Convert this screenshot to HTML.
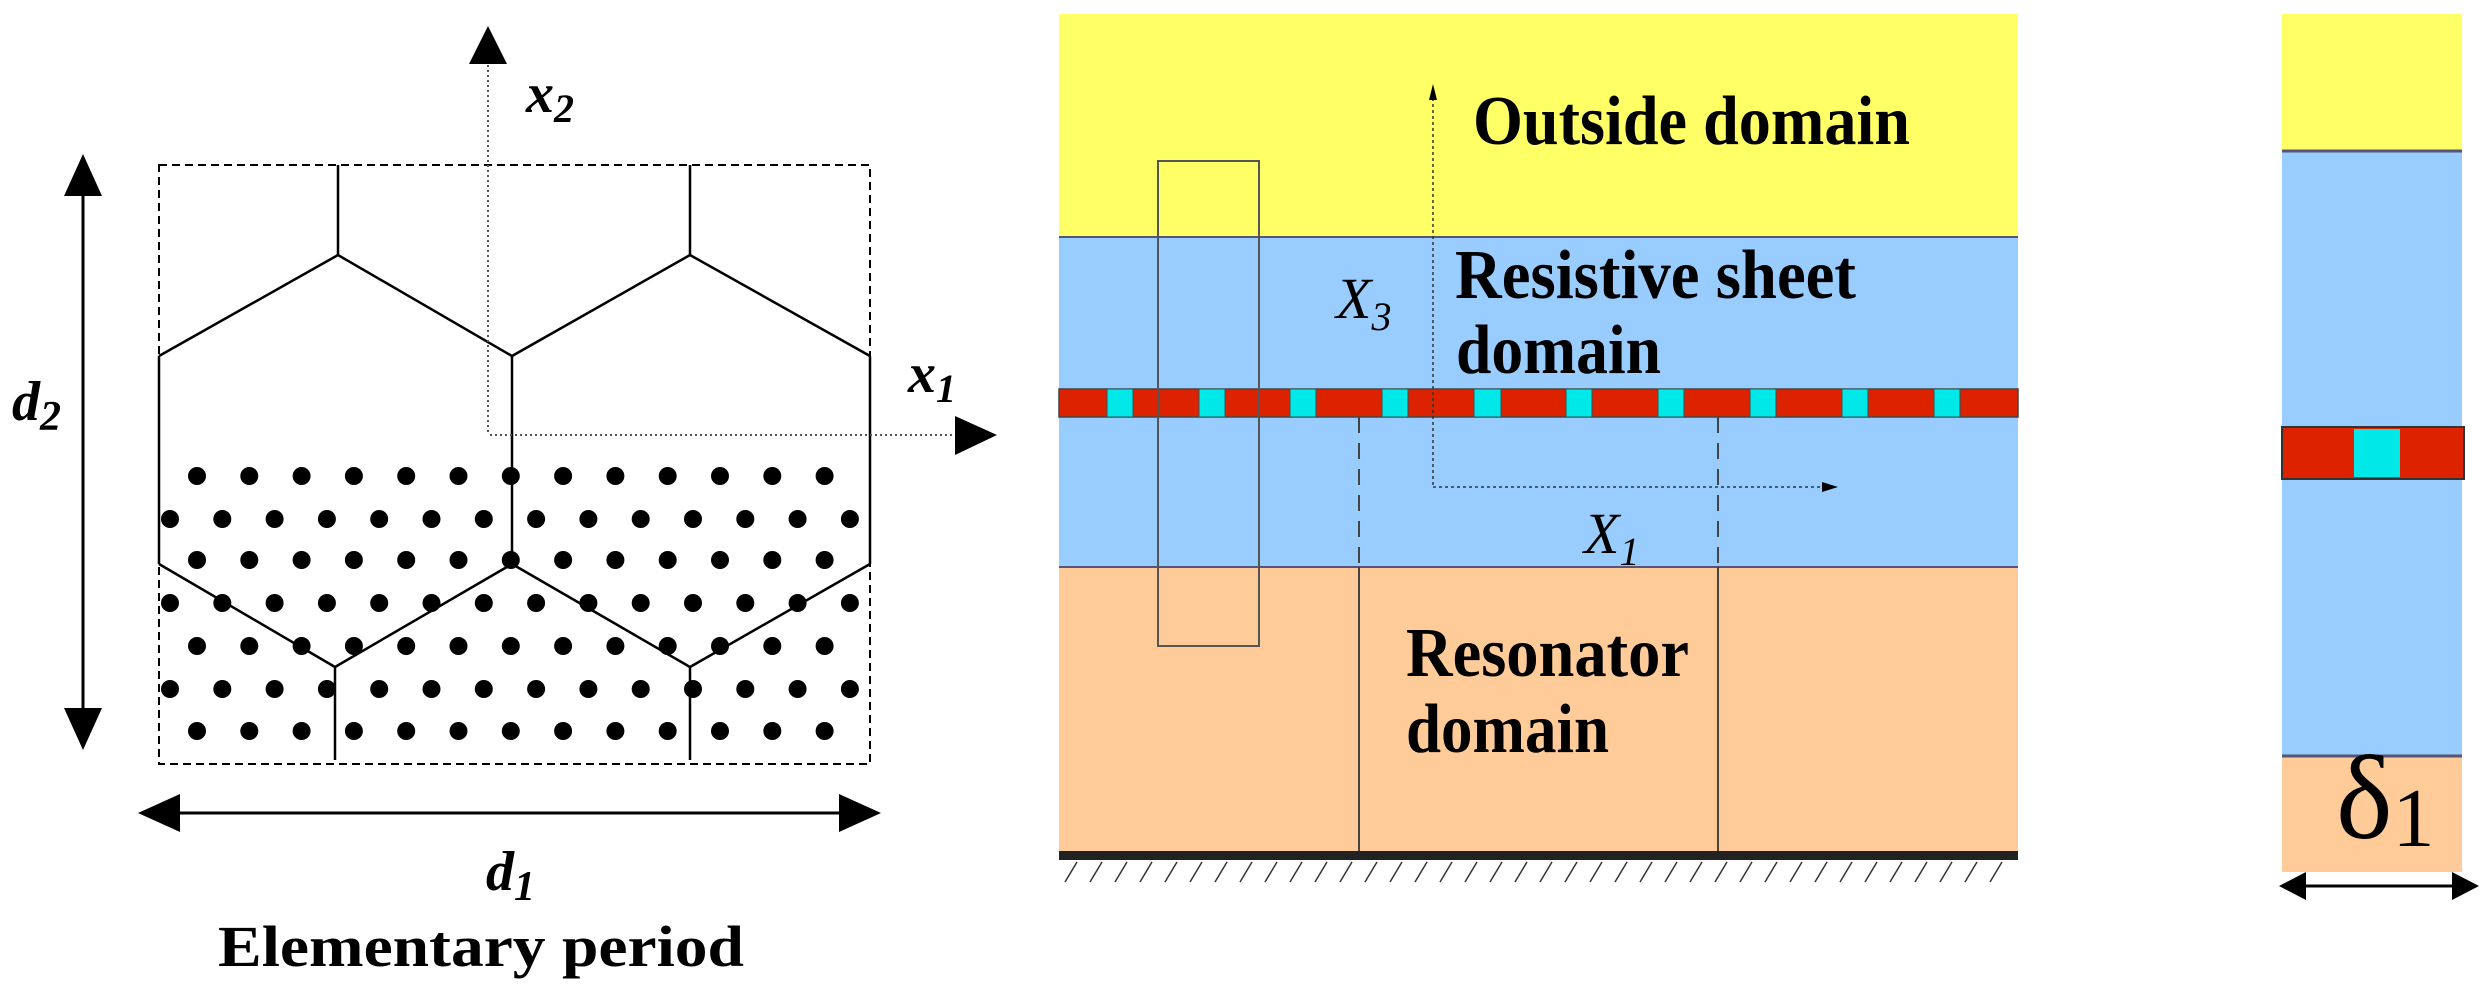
<!DOCTYPE html>
<html><head><meta charset="utf-8"><style>html,body{margin:0;padding:0;background:#fff}svg{display:block}</style></head>
<body>
<svg width="2484" height="988" viewBox="0 0 2484 988" xmlns="http://www.w3.org/2000/svg" font-family="Liberation Serif, serif">
<!-- LEFT PANEL -->
<rect x="159" y="165" width="711" height="599" fill="none" stroke="#000" stroke-width="2" stroke-dasharray="8,5"/>
<g id="dots" fill="#000"></g>
<g stroke="#000" stroke-width="2.5" fill="none">
<line x1="338" y1="165" x2="338" y2="255"/><line x1="690" y1="165" x2="690" y2="255"/>
<polyline points="159,356 338,255 512,356 690,255 870,356"/>
<line x1="159" y1="356" x2="159" y2="564"/><line x1="512" y1="356" x2="512" y2="564"/><line x1="870" y1="356" x2="870" y2="564"/>
<polyline points="159,564 335,667 512,564 690,667 870,564"/>
<line x1="335" y1="667" x2="335" y2="760"/><line x1="690" y1="667" x2="690" y2="760"/>
</g>
<line x1="488" y1="60" x2="488" y2="433" stroke="#555" stroke-width="2" stroke-dasharray="2,3"/>
<line x1="490" y1="435" x2="960" y2="435" stroke="#555" stroke-width="2" stroke-dasharray="2,3"/>
<polygon points="469,64 488,26 507,64" fill="#000"/>
<polygon points="955,416 997,435 955,455" fill="#000"/>
<line x1="83" y1="190" x2="83" y2="715" stroke="#000" stroke-width="3"/>
<polygon points="64,196 83,154 102,196" fill="#000"/>
<polygon points="64,708 83,750 102,708" fill="#000"/>
<line x1="175" y1="813" x2="845" y2="813" stroke="#000" stroke-width="3"/>
<polygon points="180,794 138,813 180,832" fill="#000"/>
<polygon points="839,794 881,813 839,832" fill="#000"/>
<g font-weight="bold" font-style="italic" font-size="56">
<text x="526" y="112">x<tspan font-size="40" dy="10">2</tspan></text>
<text x="908" y="392">x<tspan font-size="40" dy="10">1</tspan></text>
<text x="12" y="420">d<tspan font-size="42" dy="10">2</tspan></text>
<text x="486" y="890">d<tspan font-size="42" dy="10">1</tspan></text>
</g>
<text x="218" y="966" font-weight="bold" font-size="58" textLength="526" lengthAdjust="spacingAndGlyphs">Elementary period</text>

<!-- MIDDLE PANEL -->
<rect x="1059" y="14" width="959" height="223" fill="#ffff66"/>
<rect x="1059" y="237" width="959" height="330" fill="#99ccff"/>
<rect x="1059" y="567" width="959" height="284" fill="#ffcc99"/>
<line x1="1059" y1="237" x2="2018" y2="237" stroke="#557" stroke-width="2"/>
<line x1="1059" y1="567" x2="2018" y2="567" stroke="#557" stroke-width="2"/>
<rect x="1059" y="389" width="959" height="28" fill="#dd2200" stroke="#444" stroke-width="1.5"/>
<g fill="#00e8e8" stroke="#355" stroke-width="1">
<rect x="1107" y="389" width="26" height="28"/><rect x="1199" y="389" width="26" height="28"/><rect x="1290" y="389" width="26" height="28"/><rect x="1382" y="389" width="26" height="28"/><rect x="1474" y="389" width="27" height="28"/><rect x="1566" y="389" width="26" height="28"/><rect x="1658" y="389" width="26" height="28"/><rect x="1750" y="389" width="26" height="28"/><rect x="1842" y="389" width="26" height="28"/><rect x="1934" y="389" width="26" height="28"/>
</g>
<rect x="1158" y="161" width="101" height="485" fill="none" stroke="#555" stroke-width="2"/>
<g stroke="#444" stroke-width="2">
<line x1="1359" y1="417" x2="1359" y2="567" stroke-dasharray="16,10"/>
<line x1="1718" y1="417" x2="1718" y2="567" stroke-dasharray="16,10"/>
<line x1="1359" y1="567" x2="1359" y2="851"/>
<line x1="1718" y1="567" x2="1718" y2="851"/>
</g>
<line x1="1433" y1="92" x2="1433" y2="487" stroke="#333" stroke-width="1.5" stroke-dasharray="3,3"/>
<polygon points="1429,100 1433,84 1437,100" fill="#000"/>
<line x1="1433" y1="487" x2="1825" y2="487" stroke="#333" stroke-width="1.5" stroke-dasharray="3,3"/>
<polygon points="1822,482 1838,487 1822,492" fill="#000"/>
<rect x="1059" y="851" width="959" height="9" fill="#222"/>
<g stroke="#333" stroke-width="1.5">
<path d="M1065,882 L1077,862 M1090,882 L1102,862 M1115,882 L1127,862 M1140,882 L1152,862 M1165,882 L1177,862 M1190,882 L1202,862 M1215,882 L1227,862 M1240,882 L1252,862 M1265,882 L1277,862 M1290,882 L1302,862 M1315,882 L1327,862 M1340,882 L1352,862 M1365,882 L1377,862 M1390,882 L1402,862 M1415,882 L1427,862 M1440,882 L1452,862 M1465,882 L1477,862 M1490,882 L1502,862 M1515,882 L1527,862 M1540,882 L1552,862 M1565,882 L1577,862 M1590,882 L1602,862 M1615,882 L1627,862 M1640,882 L1652,862 M1665,882 L1677,862 M1690,882 L1702,862 M1715,882 L1727,862 M1740,882 L1752,862 M1765,882 L1777,862 M1790,882 L1802,862 M1815,882 L1827,862 M1840,882 L1852,862 M1865,882 L1877,862 M1890,882 L1902,862 M1915,882 L1927,862 M1940,882 L1952,862 M1965,882 L1977,862 M1990,882 L2002,862"/>
</g>
<g font-weight="bold" font-size="70">
<text x="1473" y="144" textLength="437" lengthAdjust="spacingAndGlyphs">Outside domain</text>
<text x="1455" y="298" textLength="401" lengthAdjust="spacingAndGlyphs">Resistive sheet</text>
<text x="1456" y="373" textLength="205" lengthAdjust="spacingAndGlyphs">domain</text>
<text x="1406" y="676" textLength="283" lengthAdjust="spacingAndGlyphs">Resonator</text>
<text x="1406" y="752" textLength="203" lengthAdjust="spacingAndGlyphs">domain</text>
</g>
<g font-style="italic" font-size="58">
<text x="1336" y="318">X<tspan font-size="40" dy="12">3</tspan></text>
<text x="1584" y="553">X<tspan font-size="40" dy="12">1</tspan></text>
</g>

<!-- RIGHT PANEL -->
<rect x="2282" y="14" width="180" height="137" fill="#ffff66"/>
<rect x="2282" y="151" width="180" height="605" fill="#99ccff"/>
<rect x="2282" y="756" width="180" height="116" fill="#ffcc99"/>
<line x1="2282" y1="151" x2="2462" y2="151" stroke="#557" stroke-width="3"/>
<line x1="2282" y1="756" x2="2462" y2="756" stroke="#557" stroke-width="3"/>
<rect x="2282" y="427" width="182" height="52" fill="#dd2200" stroke="#333" stroke-width="2"/>
<rect x="2354" y="429" width="46" height="48" fill="#00e8e8"/>
<text x="2336" y="838" font-size="120">δ<tspan font-size="84" dy="8">1</tspan></text>
<line x1="2300" y1="886" x2="2460" y2="886" stroke="#000" stroke-width="3"/>
<polygon points="2306,872 2279,886 2306,900" fill="#000"/>
<polygon points="2452,872 2479,886 2452,900" fill="#000"/>
</svg>
<script>
(function(){var g=document.getElementById('dots'),ns='http://www.w3.org/2000/svg';
var rows=[476,519,560,603,646,689,731];
rows.forEach(function(y,i){var x0=(i%2==0)?197:170;for(var x=x0;x<=862;x+=52.3){var c=document.createElementNS(ns,'circle');c.setAttribute('cx',x.toFixed(1));c.setAttribute('cy',y);c.setAttribute('r',9);g.appendChild(c);}});})();
</script>
</body></html>
